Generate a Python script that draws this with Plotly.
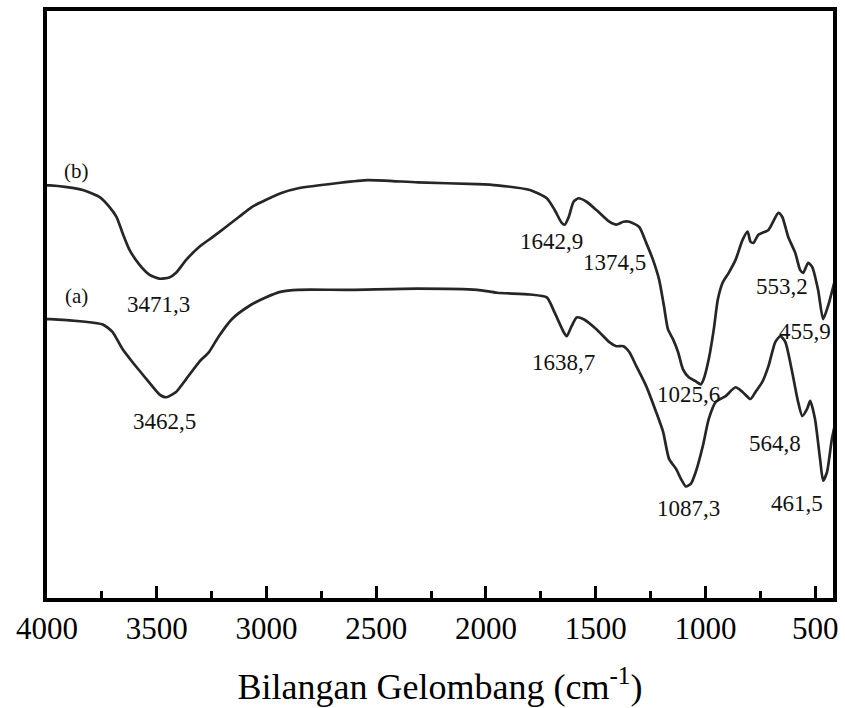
import plotly.graph_objects as go

# Curve (b) - wavenumber (cm-1) and transmittance (arb. units)
wn_b = [4000, 3986, 3909, 3837, 3760, 3715, 3683, 3656, 3624, 3579, 3534, 3488, 3443, 3412, 3366,
        3307, 3249, 3185, 3126, 3067, 3004, 2932, 2855, 2674, 2538, 2311, 2040, 1949, 1800, 1723,
        1687, 1655, 1641, 1623, 1601, 1578, 1542, 1497, 1438, 1406, 1374, 1347, 1302, 1270, 1239,
        1211, 1189, 1171, 1148, 1125, 1103, 1076, 1044, 1021, 1008, 985, 962, 944, 922, 894, 863,
        831, 808, 795, 781, 759, 713, 668, 650, 623, 591, 569, 555, 532, 514, 487, 464, 442, 410]
t_b = [70.3, 70.3, 70.0, 69.5, 68.3, 66.6, 64.9, 62.2, 59.3, 56.8, 55.1, 54.4, 54.6, 55.4, 57.6,
       59.8, 61.4, 63.2, 64.9, 66.6, 67.8, 69.0, 69.8, 70.7, 71.2, 70.8, 70.5, 70.3, 69.5, 68.1,
       66.1, 63.9, 63.6, 64.9, 67.5, 68.1, 67.5, 66.1, 64.1, 63.6, 64.1, 64.1, 63.2, 60.5, 57.6,
       54.2, 49.7, 45.8, 44.1, 41.9, 39.0, 37.6, 36.9, 36.4, 37.3, 40.7, 45.8, 50.8, 53.7, 55.4, 57.6,
       61.0, 62.4, 60.7, 60.5, 61.9, 62.7, 65.6, 64.9, 61.5, 58.8, 55.9, 55.4, 57.1, 56.4, 52.5, 47.5, 49.7, 54.2]

# Curve (a)
wn_a = [4000, 3986, 3837, 3746, 3701, 3656, 3611, 3547, 3488, 3457, 3412, 3366, 3307, 3262, 3217,
        3158, 3081, 3004, 2932, 2855, 2628, 2311, 2040, 1949, 1800, 1723, 1687, 1646, 1632, 1610,
        1587, 1555, 1497, 1438, 1406, 1374, 1347, 1315, 1270, 1225, 1193, 1166, 1134, 1112, 1089,
        1066, 1044, 1012, 985, 953, 908, 863, 831, 795, 772, 741, 713, 682, 659, 636, 605, 578, 559,
        537, 523, 501, 478, 464, 446, 424, 397]
t_a = [47.5, 47.5, 47.1, 46.6, 45.3, 42.4, 40.2, 37.3, 34.7, 34.2, 35.1, 37.3, 40.2, 41.9, 44.6,
       47.5, 49.7, 51.2, 52.2, 52.5, 52.5, 52.7, 52.5, 52.0, 51.7, 51.2, 48.6, 45.3, 44.6, 46.3,
       47.8, 47.5, 45.8, 43.6, 42.9, 42.9, 41.9, 39.5, 36.1, 31.7, 28.3, 23.7, 22.0, 20.3, 19.0,
       19.5, 21.5, 25.9, 30.5, 33.4, 34.4, 35.9, 35.1, 33.9, 35.1, 36.8, 39.5, 43.6, 44.6, 43.6, 38.5, 33.4, 31.0,
       32.2, 33.6, 30.5, 23.7, 20.0, 21.5, 27.1, 31.7]

tick_vals = [4000, 3500, 3000, 2500, 2000, 1500, 1000, 500]
tick_text = ["4000", "3500", "3000", "2500", "2000", "1500", "1000", "500"]

# Labels: text, wavenumber position, transmittance position
label_text = ["(b)", "(a)", "3471,3", "3462,5", "1642,9", "1374,5", "553,2", "455,9",
              "1638,7", "1025,6", "564,8", "1087,3", "461,5"]
label_x = [3864, 3864, 3493, 3466, 1700, 1415, 650, 546, 1646, 1076, 682, 1076, 582]
label_y = [72.7, 51.4, 50.0, 30.0, 60.7, 57.1, 53.1, 45.4, 40.2, 34.7, 26.3, 15.3, 16.1]

SERIF = "Liberation Serif"
LINE = "#262626"

fig = go.Figure()
fig.add_trace(go.Scatter(x=wn_b, y=t_b, mode="lines", line=dict(color=LINE, width=2.7, shape="spline", smoothing=0.6),
                         name="(b)", showlegend=False, hoverinfo="skip"))
fig.add_trace(go.Scatter(x=wn_a, y=t_a, mode="lines", line=dict(color=LINE, width=2.7, shape="spline", smoothing=0.6),
                         name="(a)", showlegend=False, hoverinfo="skip"))

for txt, x, y in zip(label_text, label_x, label_y):
    fs = 21 if txt.startswith("(") else 23
    fig.add_annotation(x=x, y=y, xref="x", yref="y", text=txt, showarrow=False,
                       font=dict(family=SERIF, size=fs, color="#111"))

fig.update_layout(
    width=845, height=708,
    margin=dict(l=47, r=7, t=10, b=108),
    paper_bgcolor="white", plot_bgcolor="white",
    font=dict(family=SERIF),
    xaxis=dict(range=[4000, 419], tickvals=tick_vals, ticktext=tick_text,
               ticks="inside", ticklen=12, tickwidth=3, tickcolor="black",
               minor=dict(dtick=250, tick0=250, ticks="inside", ticklen=7, tickwidth=3, tickcolor="black"),
               showline=True, linewidth=4, linecolor="black", mirror=True,
               showgrid=False, zeroline=False,
               tickfont=dict(family=SERIF, size=31, color="black"),
               title=dict(text="Bilangan Gelombang (cm<sup>-1</sup>)", standoff=30,
                          font=dict(family=SERIF, size=36, color="black"))),
    yaxis=dict(range=[0, 100], showticklabels=False, ticks="", showgrid=False, zeroline=False,
               showline=True, linewidth=4, linecolor="black", mirror=True),
)

fig.write_html("out.html")
